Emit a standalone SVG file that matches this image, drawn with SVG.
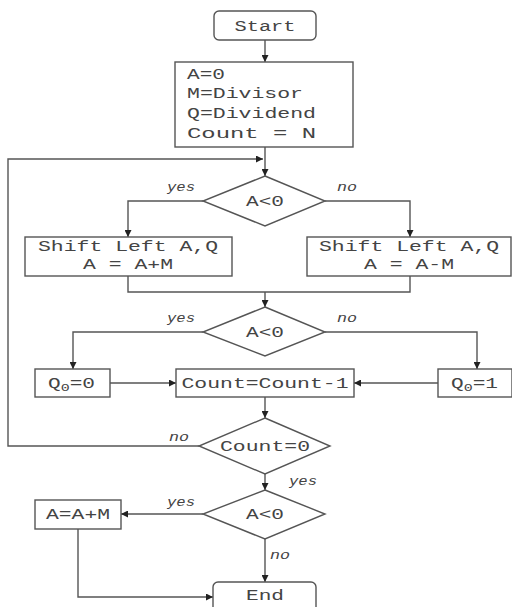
<svg xmlns="http://www.w3.org/2000/svg" width="512" height="607" viewBox="0 0 512 607">
  <defs>
    <marker id="arr" viewBox="0 0 10 10" refX="10" refY="5" markerWidth="7" markerHeight="7" markerUnits="userSpaceOnUse" orient="auto">
      <path d="M0,0 L10,5 L0,10 z" fill="#222"/>
    </marker>
    <style>
      .shape { fill: #fff; stroke: #555; stroke-width: 1.4; }
      .line { fill: none; stroke: #555; stroke-width: 1.4; }
      .arrow { fill: none; stroke: #555; stroke-width: 1.4; marker-end: url(#arr); }
      .t { font-family: "Liberation Mono", "DejaVu Sans Mono", monospace; font-size: 15.5px; fill: #444; }
      .c { text-anchor: middle; }
      .lbl { font-family: "Liberation Mono", "DejaVu Sans Mono", monospace; font-size: 13.5px; font-style: italic; fill: #444; }
      .sub { font-size: 11px; }
    </style>
  </defs>
  <rect width="512" height="607" fill="#fff"/>

  <g id="connectors">
    <path class="arrow" d="M265,40 V62"/>
    <path class="arrow" d="M265,147 V176"/>
    <path class="arrow" d="M199,446 H8 V159 H263"/>
    <path class="arrow" d="M203,201 H128 V237"/>
    <path class="arrow" d="M325,201 H410 V237"/>
    <path class="line" d="M128,276 V292 H410 V276"/>
    <path class="arrow" d="M265,292 V307"/>
    <path class="arrow" d="M203,332 H73 V369"/>
    <path class="arrow" d="M325,332 H477 V369"/>
    <path class="arrow" d="M110,383 H176"/>
    <path class="arrow" d="M438,383 H354"/>
    <path class="arrow" d="M265,397 V418"/>
    <path class="arrow" d="M265,474 V490"/>
    <path class="arrow" d="M203,514 H121"/>
    <path class="arrow" d="M265,539 V582"/>
    <path class="arrow" d="M78,529 V597 H213"/>
    <text class="lbl" x="167" y="191" textLength="28" lengthAdjust="spacingAndGlyphs">yes</text>
    <text class="lbl" x="337" y="191" textLength="20" lengthAdjust="spacingAndGlyphs">no</text>
    <text class="lbl" x="167" y="322" textLength="28" lengthAdjust="spacingAndGlyphs">yes</text>
    <text class="lbl" x="337" y="322" textLength="20" lengthAdjust="spacingAndGlyphs">no</text>
    <text class="lbl" x="169" y="441" textLength="20" lengthAdjust="spacingAndGlyphs">no</text>
    <text class="lbl" x="289" y="485" textLength="28" lengthAdjust="spacingAndGlyphs">yes</text>
    <text class="lbl" x="167" y="506" textLength="28" lengthAdjust="spacingAndGlyphs">yes</text>
    <text class="lbl" x="270" y="559" textLength="20" lengthAdjust="spacingAndGlyphs">no</text>
  </g>

  <g id="start">
    <rect class="shape" x="214" y="11" width="102" height="29" rx="5"/>
    <text class="t c" x="265" y="31" textLength="61" lengthAdjust="spacingAndGlyphs">Start</text>
  </g>

  <g id="init">
    <rect class="shape" x="175" y="62" width="178" height="85"/>
    <text class="t" x="187" y="79" textLength="38" lengthAdjust="spacingAndGlyphs">A=0</text>
    <text class="t" x="187" y="98" textLength="116" lengthAdjust="spacingAndGlyphs">M=Divisor</text>
    <text class="t" x="187" y="118" textLength="129" lengthAdjust="spacingAndGlyphs">Q=Dividend</text>
    <text class="t" x="187" y="138" textLength="129" lengthAdjust="spacingAndGlyphs">Count = N</text>
  </g>

  <g id="check1">
    <polygon class="shape" points="265,176 325,201 265,226 203,201"/>
    <text class="t c" x="265" y="206" textLength="38" lengthAdjust="spacingAndGlyphs">A&lt;0</text>
  </g>

  <g id="shift-add">
    <rect class="shape" x="25" y="237" width="207" height="39"/>
    <text class="t c" x="128" y="251" textLength="180" lengthAdjust="spacingAndGlyphs">Shift Left A,Q</text>
    <text class="t c" x="128" y="269" textLength="90" lengthAdjust="spacingAndGlyphs">A = A+M</text>
  </g>

  <g id="shift-sub">
    <rect class="shape" x="307" y="237" width="204" height="39"/>
    <text class="t c" x="409" y="251" textLength="180" lengthAdjust="spacingAndGlyphs">Shift Left A,Q</text>
    <text class="t c" x="409" y="269" textLength="90" lengthAdjust="spacingAndGlyphs">A = A-M</text>
  </g>

  <g id="check2">
    <polygon class="shape" points="265,307 325,332 265,356 203,332"/>
    <text class="t c" x="265" y="337" textLength="38" lengthAdjust="spacingAndGlyphs">A&lt;0</text>
  </g>

  <g id="q0-zero">
    <rect class="shape" x="35" y="369" width="75" height="28"/>
    <text class="t" x="48" y="388" textLength="47" lengthAdjust="spacingAndGlyphs">Q<tspan class="sub" dy="3">0</tspan><tspan dy="-3">=0</tspan></text>
  </g>

  <g id="decrement">
    <rect class="shape" x="176" y="369" width="178" height="28"/>
    <text class="t c" x="265" y="388" textLength="167" lengthAdjust="spacingAndGlyphs">Count=Count-1</text>
  </g>

  <g id="q0-one">
    <rect class="shape" x="438" y="369" width="74" height="28"/>
    <text class="t" x="451" y="388" textLength="47" lengthAdjust="spacingAndGlyphs">Q<tspan class="sub" dy="3">0</tspan><tspan dy="-3">=1</tspan></text>
  </g>

  <g id="count-check">
    <polygon class="shape" points="265,418 330,446 265,474 199,446"/>
    <text class="t c" x="265" y="451" textLength="90" lengthAdjust="spacingAndGlyphs">Count=0</text>
  </g>

  <g id="check3">
    <polygon class="shape" points="265,490 325,514 265,539 203,514"/>
    <text class="t c" x="265" y="519" textLength="38" lengthAdjust="spacingAndGlyphs">A&lt;0</text>
  </g>

  <g id="restore">
    <rect class="shape" x="35" y="500" width="86" height="29"/>
    <text class="t c" x="78" y="519" textLength="64" lengthAdjust="spacingAndGlyphs">A=A+M</text>
  </g>

  <g id="end">
    <rect class="shape" x="213" y="582" width="103" height="32" rx="5"/>
    <text class="t c" x="265" y="600" textLength="38" lengthAdjust="spacingAndGlyphs">End</text>
  </g>
</svg>
